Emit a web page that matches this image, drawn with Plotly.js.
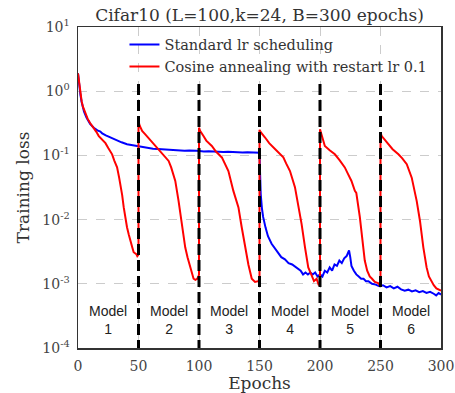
<!DOCTYPE html>
<html>
<head>
<meta charset="utf-8">
<script src="https://cdn.plot.ly/plotly-3.0.1.min.js"></script>
<style>html,body{margin:0;padding:0;background:#fff;}#chart{width:455px;height:393px;}</style>
</head>
<body>
<div id="chart"></div>
<script>
// ---- data ----
const standardEpochs = [0,1,2,3,5,7,10,13,16,18.5,20,23,26.8,30,33,36,40.5,44,47,50,54,58,62,66,68,72,76,80,84,88,92,95,98,100.5,104,108,112,116,120,124,128,132,136,140,144,148,150,150.5,151,152,153,155,157,160,162,165,168,171,174,177,180,182,184,186,188,190,192,194,196,198,200,202,204,206,208,210,212,214,216,218,220,222,224,225,226,228,230,232,234,236,238,240,243,246,249,252,255,258,261,264,267,270,273,276,279,282,285,288,291,294,296,298,300];
const standardLoss = [1.9,1.22,0.88,0.68,0.48,0.39,0.31,0.27,0.245,0.235,0.22,0.205,0.19,0.178,0.168,0.16,0.149,0.145,0.14,0.137,0.132,0.13,0.127,0.126,0.125,0.123,0.122,0.121,0.12,0.118,0.119,0.117,0.118,0.117,0.115,0.116,0.114,0.115,0.113,0.114,0.112,0.113,0.111,0.112,0.11,0.111,0.11,0.05,0.025,0.015,0.011,0.0075,0.0055,0.0042,0.0037,0.0031,0.0026,0.0024,0.0021,0.002,0.0018,0.0017,0.0016,0.0014,0.0015,0.0014,0.0015,0.0014,0.0015,0.0013,0.0014,0.0013,0.0016,0.0015,0.0018,0.0016,0.002,0.0019,0.0023,0.0021,0.0025,0.0027,0.0033,0.0026,0.0019,0.0016,0.0014,0.0013,0.0012,0.0012,0.0011,0.0011,0.001,0.00097,0.00092,0.00095,0.00088,0.00092,0.00085,0.0009,0.00082,0.00078,0.00081,0.00076,0.00079,0.00074,0.00077,0.00072,0.00075,0.0007,0.00066,0.00072,0.00068];

const cosineEpochs = [0,1,2,3,4,6,8,10,13,15,17.2,20,22.7,25,28.2,30,32.3,34,35,36.5,37.8,39,40.5,42,43.3,45,46,47,48.2,49,49.7,50,
  50,51,53,55.6,60,63,66.6,70,74.9,77,80.4,83.1,85.9,88.6,90.5,92.7,94,95.5,97,98.5,99.6,100,
  100,101,103.7,106,110.6,114,118.9,121,124.3,128.4,132.6,135.3,138.1,140.8,143.6,146.3,149,150,
  150,151,154.6,158,163,166,169.7,172,175.2,179.3,182,184.8,187.6,190.3,193.1,195,197.2,199,200,
  200,201,204,208,212.3,216,220.5,223,226,228.8,230,232.9,235,237,239,241.1,243,245.3,248,249.4,250,
  250,251,255.2,260,264.8,268,271.7,275.8,279.9,282.6,285.4,288.1,290,292.2,294,296.2,299,300];
const cosineLoss = [1.9,1.25,0.9,0.7,0.58,0.45,0.37,0.32,0.27,0.235,0.2,0.178,0.155,0.13,0.104,0.083,0.065,0.045,0.036,0.024,0.0155,0.011,0.0076,0.0058,0.0045,0.0036,0.0031,0.003,0.0029,0.0027,0.0028,0.0032,
  0.34,0.29,0.24,0.213,0.17,0.145,0.125,0.105,0.082,0.065,0.04,0.0196,0.0076,0.0037,0.0026,0.0018,0.0014,0.0012,0.00115,0.0012,0.0013,0.0014,
  0.27,0.24,0.2,0.17,0.14,0.115,0.093,0.075,0.057,0.028,0.0155,0.0076,0.0037,0.002,0.0012,0.00107,0.0011,0.0012,
  0.25,0.23,0.19,0.155,0.125,0.108,0.093,0.075,0.057,0.032,0.0175,0.0085,0.0037,0.0018,0.00135,0.0011,0.0012,0.00095,0.001,
  0.255,0.22,0.14,0.12,0.104,0.085,0.065,0.052,0.04,0.028,0.026,0.011,0.0045,0.0023,0.0016,0.0013,0.0012,0.00107,0.00103,0.00095,0.001,
  0.226,0.2,0.158,0.125,0.104,0.09,0.073,0.045,0.0196,0.0096,0.0037,0.0018,0.0013,0.00107,0.00095,0.00085,0.00079,0.00078];

const restartEpochs = [50,100,150,200,250];
const restartLineTop = 1.3;
const restartLineBottom = 1e-4;
const modelCenters = [25,75,125,175,225,275];
const modelLabels = ['Model<br>1','Model<br>2','Model<br>3','Model<br>4','Model<br>5','Model<br>6'];
const seriesNames = ['Standard lr scheduling','Cosine annealing with restart lr 0.1'];
const xTickVals = [0,50,100,150,200,250,300];
const xTickText = ['0','50','100','150','200','250','300'];
const yTickVals = [1e-4,1e-3,1e-2,1e-1,1,10];
const yTickText = ['10<sup>-4</sup>','10<sup>-3</sup>','10<sup>-2</sup>','10<sup>-1</sup>','10<sup>0</sup>','10<sup>1</sup>'];

// ---- traces ----
const traces = [
  {x: standardEpochs, y: standardLoss, name: seriesNames[0], type: 'scatter', mode: 'lines',
   line: {color: '#0000ff', width: 2}},
  {x: cosineEpochs, y: cosineLoss, name: seriesNames[1], type: 'scatter', mode: 'lines',
   line: {color: '#ff0000', width: 2}}
];
restartEpochs.forEach(e => {
  traces.push({x: [e, e], y: [restartLineTop, restartLineBottom], type: 'scatter', mode: 'lines',
    showlegend: false, hoverinfo: 'skip',
    line: {color: '#000000', width: 3, dash: '11px,5px'}});
});

const serif = '"DejaVu Serif", serif';
const annotations = modelCenters.map((c, i) => ({
  x: c, xref: 'x', y: 0.087, yref: 'paper', yanchor: 'middle', xanchor: 'center',
  text: modelLabels[i], showarrow: false,
  font: {family: '"Liberation Sans", Arial, sans-serif', size: 14, color: '#222'}
}));

const layout = {
  width: 455, height: 393,
  margin: {l: 78, r: 14, t: 27, b: 45},
  paper_bgcolor: '#fff', plot_bgcolor: '#fff',
  title: {text: 'Cifar10 (L=100,k=24, B=300 epochs)', x: 0.5, xref: 'paper', y: 0.962, yanchor: 'middle',
    font: {family: serif, size: 17, color: '#333'}},
  xaxis: {range: [0, 300], tickvals: xTickVals, ticktext: xTickText,
    showgrid: true, gridcolor: '#cccccc', griddash: 'dash', gridwidth: 1,
    showline: true, mirror: true, linecolor: '#333', linewidth: 1.5, zeroline: false,
    ticks: 'outside', ticklen: 5, tickcolor: 'rgba(0,0,0,0)',
    tickfont: {family: serif, size: 14, color: '#444'},
    title: {text: 'Epochs', font: {family: serif, size: 17, color: '#333'}, standoff: 2}},
  yaxis: {type: 'log', range: [-4, 1], tickvals: yTickVals, ticktext: yTickText,
    showgrid: true, gridcolor: '#cccccc', griddash: 'dash', gridwidth: 1,
    showline: true, mirror: true, linecolor: '#333', linewidth: 1.5, zeroline: false,
    ticks: 'outside', ticklen: 4, tickcolor: 'rgba(0,0,0,0)',
    tickfont: {family: serif, size: 14, color: '#444'},
    title: {text: 'Training loss', font: {family: serif, size: 17, color: '#333'}, standoff: 8}},
  legend: {x: 0.128, y: 0.995, xanchor: 'left', yanchor: 'top', bgcolor: 'rgba(255,255,255,0)',
    font: {family: serif, size: 14.5, color: '#333'}, tracegroupgap: 0, itemwidth: 30},
  showlegend: true,
  annotations: annotations
};

Plotly.newPlot('chart', traces, layout, {displayModeBar: false, staticPlot: true});
</script>
</body>
</html>
